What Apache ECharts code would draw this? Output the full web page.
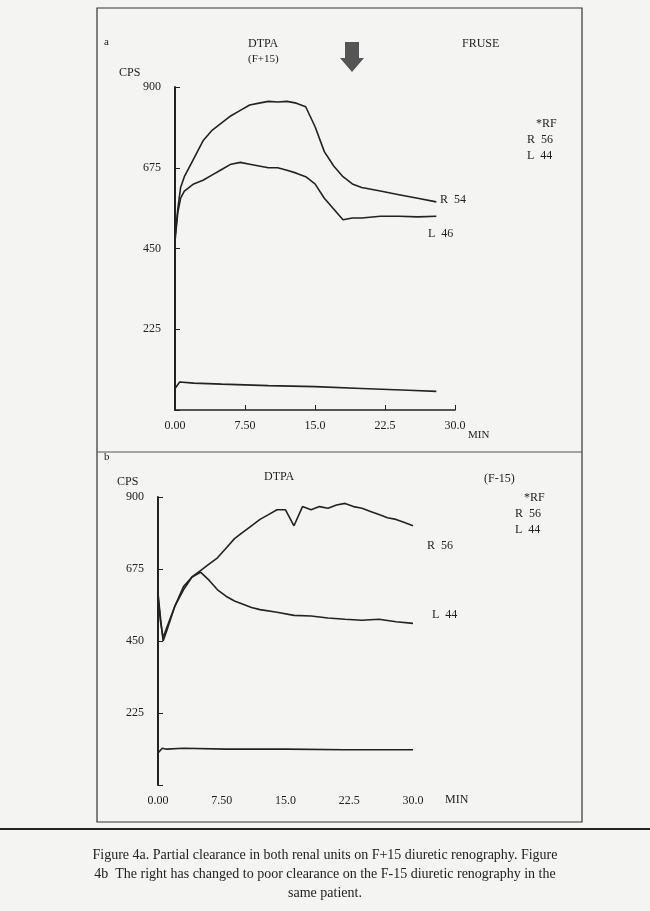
<!DOCTYPE html>
<html>
<head>
<meta charset="UTF-8">
<title>Renography</title>
<script src="https://cdn.jsdelivr.net/npm/echarts@6/dist/echarts.min.js"></script>
</head>
<body style="margin:0;background:#f4f4f2">
<div id="main" style="width:650px;height:911px;"></div>
<script type="text/javascript">
var xTicks = ['0.00', '7.50', '15.0', '22.5', '30.0'];
// panel a (F+15)
var aRight = [[0,480],[0.3,560],[0.6,620],[1,650],[2,700],[3,750],[4,780],[5,800],[6,820],[7,835],[8,850],[9,855],[10,860],[11,858],[12,860],[13,855],[14,845],[15,790],[16,720],[17,680],[18,650],[19,630],[20,620],[22,610],[24,600],[26,590],[28,580]];
var aLeft = [[0,470],[0.3,550],[0.6,590],[1,610],[2,630],[3,640],[4,655],[5,670],[6,685],[7,690],[8,685],[9,680],[10,675],[11,675],[12,668],[13,660],[14,650],[15,630],[16,590],[17,560],[18,530],[19,535],[20,535],[22,540],[24,540],[26,538],[28,540]];
var aBack = [[0,60],[0.5,78],[2,75],[5,72],[10,68],[15,65],[20,60],[25,55],[28,52]];
// panel b (F-15)
var bRight = [[0,600],[0.3,520],[0.6,450],[1,480],[2,560],[3,620],[4,650],[5,670],[6,690],[7,710],[8,740],[9,770],[10,790],[11,810],[12,830],[13,845],[14,860],[15,860],[16,810],[17,870],[18,860],[19,870],[20,865],[21,875],[22,880],[23,870],[24,865],[25,855],[26,845],[27,835],[28,830],[29,820],[30,810]];
var bLeft = [[0,590],[0.3,510],[0.6,460],[1,490],[2,560],[3,610],[4,650],[5,665],[6,640],[7,610],[8,590],[9,575],[10,565],[11,555],[12,548],[14,540],[16,530],[18,528],[20,522],[22,518],[24,515],[26,518],[28,510],[30,505]];
var bBack = [[0,100],[0.5,115],[1,112],[3,115],[8,112],[15,112],[22,110],[30,110]];

var chart = echarts.init(document.getElementById('main'));
var font = 'Liberation Serif';
function xAx(i) {
  return {gridIndex:i, type:'value', min:0, max:30, interval:7.5,
    axisLine:{show:i===0, lineStyle:{color:'#222',width:1.5}}, axisTick:{show:i===0, inside:true, lineStyle:{color:'#222'}},
    splitLine:{show:false},
    axisLabel:{color:'#222', fontFamily:font, fontSize:12, margin:10,
      formatter:function(v){ return xTicks[Math.round(v/7.5)]; }}};
}
function yAx(i) {
  return {gridIndex:i, type:'value', min:0, max:900, interval:225,
    axisLine:{show:true, lineStyle:{color:'#222',width:2}}, axisTick:{show:true, inside:true, lineStyle:{color:'#222'}},
    splitLine:{show:false},
    axisLabel:{color:'#222', fontFamily:font, fontSize:12, margin:14,
      formatter:function(v){ return v===0 ? '' : String(v); }}};
}
function ser(data, i) {
  return {type:'line', xAxisIndex:i, yAxisIndex:i, data:data, symbol:'none',
    lineStyle:{color:'#222', width:1.6}};
}
function txt(x, y, s, size) {
  return {type:'text', left:x, top:y, style:{text:s, fill:'#222', font:(size||12)+'px "'+font+'"'}};
}
chart.setOption({
  animation:false,
  grid:[{left:175, top:87, width:280, height:323}, {left:158, top:497, width:255, height:288}],
  xAxis:[xAx(0), xAx(1)],
  yAxis:[yAx(0), yAx(1)],
  series:[ser(aRight,0), ser(aLeft,0), ser(aBack,0), ser(bRight,1), ser(bLeft,1), ser(bBack,1)],
  graphic:[
    {type:'rect', shape:{x:97, y:8, width:485, height:814}, style:{fill:'none', stroke:'#333', lineWidth:1.2}},
    {type:'line', shape:{x1:97, y1:452, x2:582, y2:452}, style:{stroke:'#555', lineWidth:1}},
    txt(104, 37, 'a', 11), txt(248, 38, 'DTPA', 12), txt(248, 54, '(F+15)', 11), txt(462, 38, 'FRUSE', 12),
    txt(119, 67, 'CPS', 12),
    {type:'polygon', shape:{points:[[345,42],[345,58],[340,58],[352,72],[364,58],[359,58],[359,42]]}, style:{fill:'#555'}},
    txt(536, 118, '*RF', 12), txt(527, 134, 'R  56', 12), txt(527, 150, 'L  44', 12),
    txt(440, 194, 'R  54', 12), txt(428, 228, 'L  46', 12),
    txt(468, 430, 'MIN', 11),
    txt(104, 452, 'b', 11), txt(264, 471, 'DTPA', 12), txt(484, 473, '(F-15)', 12),
    txt(117, 476, 'CPS', 12),
    txt(524, 492, '*RF', 12), txt(515, 508, 'R  56', 12), txt(515, 524, 'L  44', 12),
    txt(427, 540, 'R  56', 12), txt(432, 609, 'L  44', 12),
    txt(445, 794, 'MIN', 12),
    {type:'line', shape:{x1:0, y1:829, x2:650, y2:829}, style:{stroke:'#222', lineWidth:2}},
    txt('center', 848, 'Figure 4a. Partial clearance in both renal units on F+15 diuretic renography. Figure', 14),
    txt('center', 867, '4b  The right has changed to poor clearance on the F-15 diuretic renography in the', 14),
    txt('center', 886, 'same patient.', 14)
  ]
});
</script>
</body>
</html>
